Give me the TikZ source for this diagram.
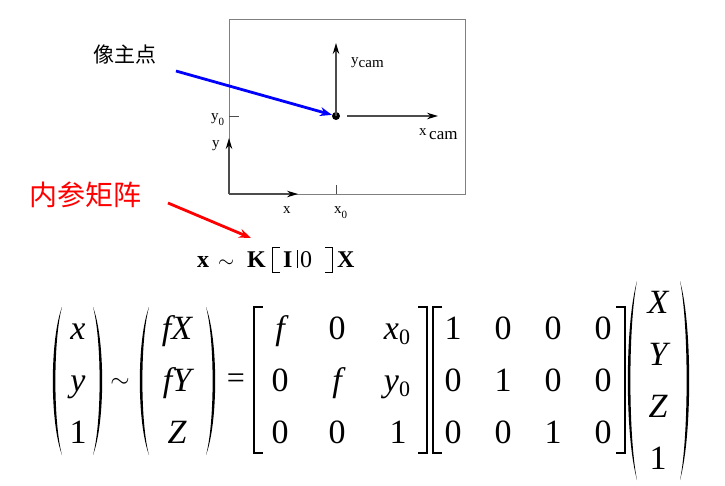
\documentclass[tikz,border=0pt]{standalone}
\usepackage{fontspec}
\setmainfont{Liberation Serif}
\newfontfamily\cjk{Noto Sans CJK SC}
\usetikzlibrary{arrows.meta}
\newcommand\myparen[4]{% #1 end x, #2 top y, #3 bottom y, #4 bulge (signed)
  \fill (#1,#2) .. controls ({#1+1.36*(#4)},{#2+0.22*(#3-#2)}) and ({#1+1.36*(#4)},{#3-0.22*(#3-#2)}) .. (#1,#3)
        .. controls ({#1+0.98*(#4)},{#3-0.22*(#3-#2)}) and ({#1+0.98*(#4)},{#2+0.22*(#3-#2)}) .. (#1,#2) -- cycle;}
\begin{document}
\begin{tikzpicture}[x=1pt,y=-1pt,
  axis/.style={draw=black!70, line width=1.3pt, -{Stealth[length=11pt,width=6.5pt,black]}},
  lab/.style={font=\fontsize{15}{15}\selectfont, inner sep=0pt, anchor=base west},
  ent/.style={font=\fontsize{34}{34}\selectfont\itshape, inner sep=0pt, anchor=base},
  num/.style={font=\fontsize{34}{34}\selectfont, inner sep=0pt, anchor=base},
  bigf/.style={font=\fontsize{24}{24}\selectfont\bfseries, inner sep=0pt, anchor=base west},
  brk/.style={line width=1.4pt},
  callout/.style={line width=2.8pt, -{Stealth[length=12pt,width=9pt]}}]
\useasboundingbox (0,0) rectangle (725,485);
% ---------- image plane ----------
\draw[black!50, line width=1pt] (229,19) rectangle (465,194);
\coordinate (o) at (229,194);
\coordinate (xe) at (298,194);
\coordinate (ye) at (229,138);
\draw[axis] (o) -- (xe);
\draw[axis] (o) -- (ye);
\node[circle, fill=black, inner sep=0pt, minimum size=8pt] (pp) at (336,116) {};
\coordinate (yc) at (336,43);
\coordinate (xcs) at (347,116);
\coordinate (xce) at (438,116);
\draw[axis] (pp.center) -- (yc);
\draw[axis] (xcs) -- (xce);
\coordinate (yt1) at (229,116); \coordinate (yt2) at (239,116);
\draw[black!70, line width=1pt] (yt1) -- (yt2);
\coordinate (xt1) at (336,185); \coordinate (xt2) at (336,194);
\draw[black!70, line width=1pt] (xt1) -- (xt2);
\node[lab] (ycam) at (351,64) {y\raisebox{-3pt}{cam}};
\node[lab] (xcam) at (419,135) {x\,\raisebox{-4pt}{\fontsize{17}{17}\selectfont cam}};
\node[lab] (y0l) at (211,120) {y\raisebox{-5pt}{\fontsize{11}{11}\selectfont 0}};
\node[lab] (yl) at (212,147) {y};
\node[lab] (xl) at (283,213) {x};
\node[lab] (x0l) at (334,213) {x\raisebox{-5pt}{\fontsize{11}{11}\selectfont 0}};
% ---------- callouts ----------
\node[font=\cjk\fontsize{21}{21}\selectfont, inner sep=0pt] (ppl) at (125,55) {像主点};
\coordinate (bs) at (176,71);
\draw[callout, blue] (bs) -- (pp);
\node[font=\cjk\fontsize{28}{28}\selectfont, text=red, inner sep=0pt] (kl) at (85,195) {内参矩阵};
\coordinate (rs) at (168,203);
\coordinate (re) at (251,238);
\draw[callout, red] (rs) -- (re);
% ---------- x ~ K[I|0]X ----------
\node[bigf] (fx) at (197,267) {x};
\node[inner sep=0pt, anchor=base west, font=\fontsize{20}{20}\selectfont] (ft) at (218,267) {$\sim$};
\node[bigf] (fk) at (247,267) {K};
\draw[line width=1pt] (280,247) -- (272,247) -- (272,272) -- (280,272);
\node[bigf] (fi) at (283,267) {I};
\draw[line width=0.8pt] (297,250) -- (297,268);
\node[inner sep=0pt, anchor=base west, font=\fontsize{24}{24}\selectfont] (f0) at (300,267) {0};
\draw[line width=1pt] (325,247) -- (332,247) -- (332,272) -- (325,272);
\node[bigf] (fX) at (337,267) {X};
% ---------- big equation ----------
\myparen{62}{307}{455}{-9}
\myparen{93}{307}{455}{9}
\node[ent] (a1) at (78,339) {x};
\node[ent] (a2) at (78,391) {y};
\node[num] (a3) at (78,443) {1};
\node[inner sep=0pt, anchor=base, font=\fontsize{27}{27}\selectfont] (sim) at (120,387) {$\sim$};
\myparen{149}{307}{455}{-9}
\myparen{206}{307}{455}{9}
\node[ent] (b1) at (177,339) {fX};
\node[ent] (b2) at (177,391) {fY};
\node[ent] (b3) at (177,443) {Z};
\node[num, font=\fontsize{32}{32}\selectfont] (eq) at (236,388) {=};
% matrix K
\draw[brk] (263,307) -- (254,307) -- (254,453) -- (263,453);
\draw[brk] (418,307) -- (427,307) -- (427,453) -- (418,453);
\node[ent] (k11) at (280,339) {f};
\node[num] (k12) at (337,339) {0};
\node[ent] (k13) at (397,339) {x\raisebox{-5pt}{\fontsize{22}{22}\selectfont\upshape 0}};
\node[num] (k21) at (280,391) {0};
\node[ent] (k22) at (337,391) {f};
\node[ent] (k23) at (397,391) {y\raisebox{-5pt}{\fontsize{22}{22}\selectfont\upshape 0}};
\node[num] (k31) at (280,443) {0};
\node[num] (k32) at (337,443) {0};
\node[num] (k33) at (398,443) {1};
% matrix [I|0]
\draw[brk] (442,307) -- (433,307) -- (433,453) -- (442,453);
\draw[brk] (616,307) -- (625,307) -- (625,453) -- (616,453);
\node[num] (p11) at (453,339) {1};
\node[num] (p12) at (503,339) {0};
\node[num] (p13) at (553,339) {0};
\node[num] (p14) at (603,339) {0};
\node[num] (p21) at (453,391) {0};
\node[num] (p22) at (503,391) {1};
\node[num] (p23) at (553,391) {0};
\node[num] (p24) at (603,391) {0};
\node[num] (p31) at (453,443) {0};
\node[num] (p32) at (503,443) {0};
\node[num] (p33) at (553,443) {1};
\node[num] (p34) at (603,443) {0};
% world point
\myparen{637}{281}{480}{-9}
\myparen{680}{281}{480}{9}
\node[ent] (w1) at (658,313) {X};
\node[ent] (w2) at (658,365) {Y};
\node[ent] (w3) at (658,417) {Z};
\node[num] (w4) at (658,469) {1};
\end{tikzpicture}
\end{document}
